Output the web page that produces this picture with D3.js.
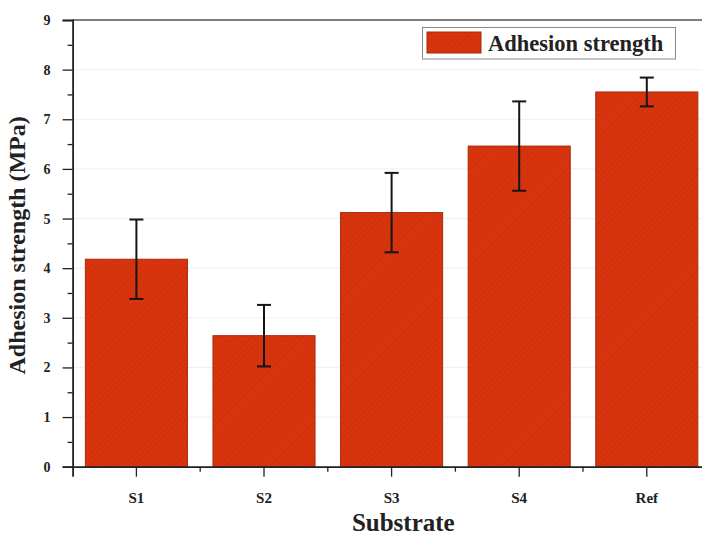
<!DOCTYPE html>
<html>
<head>
<meta charset="utf-8">
<script src="https://cdn.jsdelivr.net/npm/d3@7"></script>
<style>
  html, body { margin: 0; padding: 0; background: #fff; }
  svg { display: block; }
  text { font-family: "Times New Roman", "Liberation Serif", serif; font-weight: bold; fill: #222; }
</style>
</head>
<body>
<svg id="chart" width="702" height="538"></svg>
<script>
// Adhesion strength per substrate (MPa), with standard deviation
const categories = ["S1", "S2", "S3", "S4", "Ref"];
const strength = [4.18, 2.64, 5.12, 6.46, 7.55];
const strengthErr = [0.8, 0.62, 0.8, 0.9, 0.29];
const yTicks = [0, 1, 2, 3, 4, 5, 6, 7, 8, 9];
const seriesName = "Adhesion strength";

const svg = d3.select("#chart");
const plotLeft = 72.6, plotTop = 20, plotBottom = 466.7;
const step = 127.6;

const x = d3.scaleBand()
  .domain(categories)
  .range([plotLeft, plotLeft + step * categories.length])
  .paddingInner(0.2)
  .paddingOuter(0.1);

const y = d3.scaleLinear().domain([0, 9]).range([plotBottom, plotTop]);
const plotRight = plotLeft + step * categories.length;

// Hatched fill for the bars
const defs = svg.append("defs");
const pat = defs.append("pattern")
  .attr("id", "barFill")
  .attr("patternUnits", "userSpaceOnUse")
  .attr("width", 4).attr("height", 4)
  .attr("patternTransform", "rotate(45)");
pat.append("rect").attr("width", 4).attr("height", 4).attr("fill", "#d8340d");
pat.append("line").attr("x1", 0).attr("y1", 0).attr("x2", 0).attr("y2", 4)
  .attr("stroke", "#c72d0b").attr("stroke-width", 1.2);

// Faint horizontal grid
svg.append("g")
  .selectAll("line")
  .data(yTicks.filter(d => d > 0 && d < 9))
  .join("line")
  .attr("x1", plotLeft).attr("x2", plotRight)
  .attr("y1", d => y(d)).attr("y2", d => y(d))
  .attr("stroke", "#efefef").attr("stroke-width", 1);

// Bars
svg.append("g")
  .selectAll("rect")
  .data(categories)
  .join("rect")
  .attr("x", d => x(d))
  .attr("y", (d, i) => y(strength[i]))
  .attr("width", x.bandwidth())
  .attr("height", (d, i) => y(0) - y(strength[i]))
  .attr("fill", "url(#barFill)")
  .attr("stroke", "#a52a0e")
  .attr("stroke-width", 1);

// Error bars
const eb = svg.append("g");
categories.forEach((c, i) => {
  const cx = x(c) + x.bandwidth() / 2;
  const hi = y(strength[i] + strengthErr[i]);
  const lo = y(strength[i] - strengthErr[i]);
  eb.append("line").attr("x1", cx).attr("x2", cx).attr("y1", hi).attr("y2", lo);
  eb.append("line").attr("x1", cx - 7).attr("x2", cx + 7).attr("y1", hi).attr("y2", hi);
  eb.append("line").attr("x1", cx - 7).attr("x2", cx + 7).attr("y1", lo).attr("y2", lo);
});
eb.selectAll("line").attr("stroke", "#151515").attr("stroke-width", 2);

// Frame top and right
svg.append("line")
  .attr("x1", plotLeft).attr("x2", plotRight).attr("y1", plotTop).attr("y2", plotTop)
  .attr("stroke", "#555").attr("stroke-width", 1.5);
svg.append("line")
  .attr("x1", plotRight).attr("x2", plotRight).attr("y1", plotTop).attr("y2", plotBottom)
  .attr("stroke", "#555").attr("stroke-width", 1.5);

// Y axis with major and minor ticks
const yAxis = svg.append("g").attr("transform", `translate(${plotLeft},0)`)
  .call(d3.axisLeft(y).tickValues(yTicks).tickSize(10).tickPadding(12).tickFormat(d3.format("d")));
svg.append("g").attr("transform", `translate(${plotLeft},0)`)
  .call(d3.axisLeft(y).tickValues(yTicks.slice(0, -1).map(d => d + 0.5)).tickSize(5).tickFormat(""))
  .call(g => g.select(".domain").remove());

// X axis with ticks at category centres and minor ticks between them
const xAxis = svg.append("g").attr("transform", `translate(0,${plotBottom})`)
  .call(d3.axisBottom(x).tickSize(10).tickPadding(16));
const boundaries = categories.slice(1).map(c => x(c) - step * x.paddingInner() / 2);
svg.append("g")
  .selectAll("line")
  .data(boundaries)
  .join("line")
  .attr("x1", d => d).attr("x2", d => d)
  .attr("y1", plotBottom).attr("y2", plotBottom + 5)
  .attr("stroke", "#222").attr("stroke-width", 1.3);

svg.selectAll(".domain").attr("stroke", "#222").attr("stroke-width", 1.8);
svg.selectAll(".tick line").attr("stroke", "#222").attr("stroke-width", 1.3);
svg.selectAll(".tick text")
  .attr("font-size", 15)
  .attr("font-family", "'Times New Roman', 'Liberation Serif', serif")
  .attr("font-weight", "bold")
  .attr("fill", "#222");
yAxis.selectAll(".tick text").attr("font-size", 14);

// Axis titles
svg.append("text")
  .attr("transform", `translate(25,${(plotTop + plotBottom) / 2 + 2}) rotate(-90)`)
  .attr("text-anchor", "middle")
  .attr("font-size", 24)
  .text("Adhesion strength (MPa)");

svg.append("text")
  .attr("x", (plotLeft + 702) / 2 + 16)
  .attr("y", 531)
  .attr("text-anchor", "middle")
  .attr("font-size", 25)
  .text("Substrate");

// Legend
const lg = svg.append("g");
lg.append("rect")
  .attr("x", 422.5).attr("y", 27.5).attr("width", 253).attr("height", 31.5)
  .attr("fill", "#fff").attr("stroke", "#8a8a8a").attr("stroke-width", 1);
lg.append("rect")
  .attr("x", 427).attr("y", 32).attr("width", 54).attr("height", 21)
  .attr("fill", "url(#barFill)").attr("stroke", "#a52a0e");
lg.append("text")
  .attr("x", 488).attr("y", 51)
  .attr("font-size", 22.5)
  .text(seriesName);
</script>
</body>
</html>
